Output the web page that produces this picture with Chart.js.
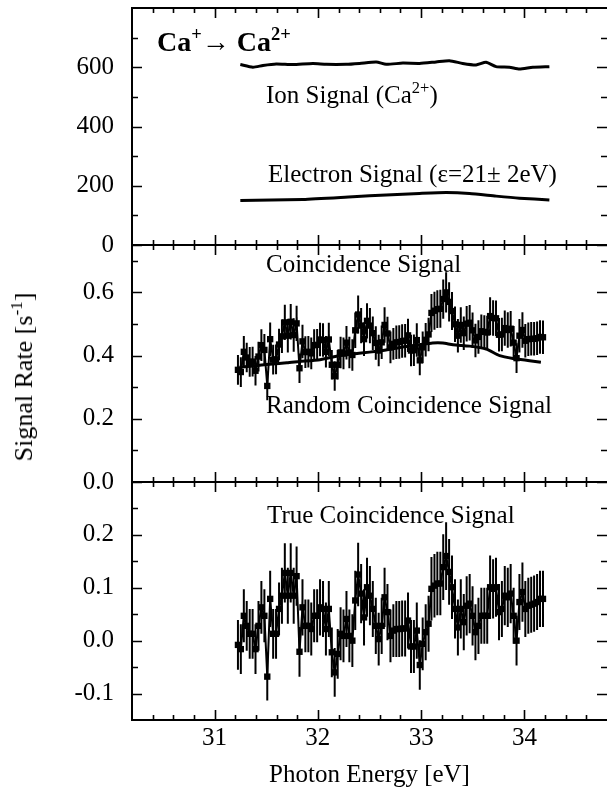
<!DOCTYPE html>
<html>
<head>
<meta charset="utf-8">
<script src="https://cdn.jsdelivr.net/npm/chart.js@4.4.0/dist/chart.umd.min.js"></script>
<style>
  html, body { margin: 0; padding: 0; background: #fff; }
  #wrap { position: relative; width: 607px; height: 792px; overflow: hidden;
          font-family: "Liberation Serif", "Times New Roman", serif; color: #000; }
  #wrap canvas { position: absolute; left: 0; top: 0; }
  .lbl { position: absolute; white-space: nowrap; font-size: 25px; line-height: 1; }
  .lbl sup { font-size: 0.66em; line-height: 0; vertical-align: 0.58em; }
  .big { font-size: 28px; font-weight: bold; }
  .ytitle { left: 24px; top: 377px; font-size: 26px; transform: translate(-50%, -50%) rotate(-90deg); }
</style>
</head>
<body>
<div id="wrap">
  <canvas id="c1" width="607" height="792"></canvas>
  <canvas id="c2" width="607" height="792"></canvas>
  <canvas id="c3" width="607" height="792"></canvas>
  <div class="lbl big" style="left:157px; top:28px;">Ca<sup>+</sup>&rarr; Ca<sup>2+</sup></div>
  <div class="lbl" style="left:266px; top:82px;">Ion Signal (Ca<sup>2+</sup>)</div>
  <div class="lbl" style="left:268px; top:161px;">Electron Signal (&epsilon;=21&plusmn; 2eV)</div>
  <div class="lbl" style="left:266px; top:251px;">Coincidence Signal</div>
  <div class="lbl" style="left:266px; top:392px;">Random Coincidence Signal</div>
  <div class="lbl" style="left:267px; top:502px;">True Coincidence Signal</div>
  <div class="lbl ytitle">Signal Rate [s<sup>-1</sup>]</div>
</div>
<script>
// photon energy of each scan point (eV)
const energy = [
  31.226, 31.254, 31.283, 31.311, 31.340, 31.368, 31.396, 31.425, 31.453, 31.482,
  31.510, 31.538, 31.567, 31.595, 31.624, 31.652, 31.680, 31.709, 31.737, 31.766,
  31.794, 31.822, 31.851, 31.879, 31.908, 31.936, 31.964, 31.993, 32.021, 32.050,
  32.078, 32.106, 32.135, 32.163, 32.192, 32.220, 32.248, 32.277, 32.305, 32.334,
  32.362, 32.390, 32.419, 32.447, 32.476, 32.504, 32.532, 32.561, 32.589, 32.618,
  32.646, 32.674, 32.703, 32.731, 32.760, 32.788, 32.816, 32.845, 32.873, 32.902,
  32.930, 32.958, 32.987, 33.015, 33.044, 33.072, 33.100, 33.129, 33.157, 33.186,
  33.214, 33.242, 33.271, 33.299, 33.328, 33.356, 33.384, 33.413, 33.441, 33.470,
  33.498, 33.526, 33.555, 33.583, 33.612, 33.640, 33.668, 33.697, 33.725, 33.754,
  33.782, 33.810, 33.839, 33.867, 33.896, 33.924, 33.952, 33.981, 34.009, 34.038,
  34.066, 34.094, 34.123, 34.151, 34.180
];

// coincidence signal (s^-1)
const coincRate = [
  0.355, 0.348, 0.412, 0.394, 0.380, 0.381, 0.352, 0.397, 0.433, 0.418,
  0.304, 0.452, 0.387, 0.388, 0.435, 0.461, 0.505, 0.463, 0.507, 0.465,
  0.502, 0.360, 0.445, 0.411, 0.412, 0.407, 0.433, 0.434, 0.451, 0.449,
  0.412, 0.451, 0.371, 0.335, 0.371, 0.410, 0.407, 0.441, 0.410, 0.402,
  0.480, 0.530, 0.495, 0.452, 0.510, 0.495, 0.471, 0.440, 0.416, 0.442,
  0.497, 0.470, 0.426, 0.437, 0.442, 0.443, 0.446, 0.447, 0.464, 0.416,
  0.417, 0.449, 0.385, 0.426, 0.450, 0.467, 0.535, 0.542, 0.547, 0.548,
  0.579, 0.600, 0.570, 0.541, 0.499, 0.463, 0.497, 0.471, 0.501, 0.504,
  0.480, 0.448, 0.459, 0.477, 0.475, 0.473, 0.525, 0.519, 0.518, 0.466,
  0.467, 0.487, 0.481, 0.485, 0.441, 0.392, 0.463, 0.481, 0.447, 0.452,
  0.453, 0.453, 0.455, 0.459, 0.458
];

// true coincidence signal (s^-1)
const trueRate = [
  -0.008, -0.016, 0.047, 0.028, 0.013, 0.013, -0.016, 0.028, 0.063, 0.047,
  -0.068, 0.079, 0.013, 0.013, 0.060, 0.085, 0.128, 0.085, 0.128, 0.085,
  0.122, -0.021, 0.063, 0.028, 0.028, 0.022, 0.047, 0.047, 0.063, 0.060,
  0.022, 0.060, -0.022, -0.060, -0.025, 0.013, 0.009, 0.041, 0.009, 0.000,
  0.076, 0.125, 0.089, 0.044, 0.101, 0.085, 0.060, 0.028, 0.003, 0.028,
  0.082, 0.054, 0.009, 0.019, 0.022, 0.022, 0.023, 0.023, 0.038, -0.011,
  -0.011, 0.019, -0.046, -0.006, 0.016, 0.032, 0.098, 0.104, 0.108, 0.108,
  0.139, 0.160, 0.130, 0.101, 0.060, 0.025, 0.060, 0.035, 0.066, 0.070,
  0.047, 0.016, 0.028, 0.047, 0.047, 0.047, 0.101, 0.098, 0.101, 0.054,
  0.060, 0.085, 0.082, 0.089, 0.047, 0.000, 0.073, 0.092, 0.060, 0.066,
  0.068, 0.070, 0.073, 0.079, 0.079
];

// statistical error of each point (s^-1)
const rateErr = [
  0.047, 0.047, 0.050, 0.047, 0.047, 0.047, 0.047, 0.047, 0.050, 0.050,
  0.045, 0.053, 0.047, 0.047, 0.050, 0.053, 0.056, 0.053, 0.056, 0.053,
  0.056, 0.047, 0.053, 0.050, 0.050, 0.050, 0.050, 0.050, 0.053, 0.053,
  0.050, 0.053, 0.047, 0.046, 0.047, 0.050, 0.050, 0.053, 0.050, 0.050,
  0.056, 0.060, 0.056, 0.053, 0.056, 0.056, 0.053, 0.053, 0.050, 0.053,
  0.056, 0.053, 0.050, 0.050, 0.053, 0.053, 0.053, 0.053, 0.053, 0.050,
  0.050, 0.053, 0.047, 0.050, 0.053, 0.053, 0.060, 0.060, 0.060, 0.060,
  0.062, 0.064, 0.062, 0.060, 0.056, 0.053, 0.056, 0.053, 0.056, 0.056,
  0.056, 0.053, 0.053, 0.053, 0.053, 0.053, 0.060, 0.056, 0.056, 0.053,
  0.053, 0.056, 0.056, 0.056, 0.053, 0.047, 0.053, 0.056, 0.053, 0.053,
  0.053, 0.053, 0.053, 0.053, 0.053
];

// random coincidence curve
const randomE    = [31.24, 31.40, 31.53, 31.70, 31.82, 32.02, 32.18, 32.34, 32.50, 32.66, 32.82,
                    32.98, 33.11, 33.21, 33.31, 33.47, 33.63, 33.76, 33.89, 34.05, 34.16];
const randomRate = [0.363, 0.368, 0.373, 0.377, 0.381, 0.387, 0.398, 0.405, 0.411, 0.418, 0.427,
                    0.434, 0.440, 0.440, 0.434, 0.430, 0.421, 0.400, 0.391, 0.384, 0.379];

// ion signal (Ca2+)
const ionE    = [31.249, 31.371, 31.468, 31.597, 31.758, 31.952, 32.081, 32.274, 32.403, 32.565, 32.661, 32.823,
                 32.984, 33.145, 33.274, 33.403, 33.532, 33.629, 33.726, 33.855, 33.952, 34.081, 34.242];
const ionRate = [609, 600, 606, 611, 609, 613, 610, 610, 613, 618, 610, 614,
                 613, 618, 622, 613, 608, 617, 602, 600, 594, 600, 602];

// electron signal
const elecE    = [31.249, 31.855, 32.339, 32.661, 32.984, 33.242, 33.468, 33.726, 33.952, 34.242];
const elecRate = [150, 154, 163, 169, 174, 177, 174, 165, 158, 152];

// axis ticks
const xLabels = [31, 32, 33, 34];
const xMinor = [30.4, 30.6, 30.8, 31.2, 31.4, 31.6, 31.8, 32.2, 32.4, 32.6, 32.8,
                33.2, 33.4, 33.6, 33.8, 34.2, 34.4, 34.6];
const ionTicks = [0, 200, 400, 600];
const ionMinor = [100, 300, 500, 700];
const coincTicks = [0, 0.2, 0.4, 0.6];
const coincMinor = [0.1, 0.3, 0.5, 0.7];
const trueTicks = [-0.1, 0, 0.1, 0.2];
const trueMinor = [-0.05, 0.05, 0.15, 0.25];

const FONT = 'Liberation Serif';
const pts = (xs, ys) => xs.map((x, i) => ({ x: x, y: ys[i] }));

// frame (left, top, bottom) with inward ticks; right edge falls just outside the page
const frameTicks = {
  id: 'frameTicks',
  afterDraw(chart, args, opts) {
    const { ctx, chartArea: a } = chart;
    const xs = chart.scales.x, ys = chart.scales.y;
    ctx.save();
    ctx.strokeStyle = '#000';
    ctx.lineWidth = 2;
    ctx.beginPath();
    ctx.moveTo(a.right + 2, a.top); ctx.lineTo(a.left, a.top);
    ctx.lineTo(a.left, a.bottom); ctx.lineTo(a.right + 2, a.bottom);
    ctx.stroke();
    ctx.lineWidth = 1.6;
    ctx.beginPath();
    const xt = (v, len) => {
      const px = Math.round(xs.getPixelForValue(v)) + 0.5;
      ctx.moveTo(px, a.top); ctx.lineTo(px, a.top + len);
      ctx.moveTo(px, a.bottom); ctx.lineTo(px, a.bottom - len);
    };
    const yt = (v, len) => {
      const py = Math.round(ys.getPixelForValue(v)) + 0.5;
      ctx.moveTo(a.left, py); ctx.lineTo(a.left + len, py);
      ctx.moveTo(a.right, py); ctx.lineTo(a.right - len, py);
    };
    xLabels.forEach(v => xt(v, 10));
    xMinor.forEach(v => xt(v, 5));
    opts.major.forEach(v => yt(v, 10));
    opts.minor.forEach(v => yt(v, 6));
    ctx.stroke();
    ctx.restore();
  }
};

// vertical error bars
const errorBars = {
  id: 'errorBars',
  beforeDatasetsDraw(chart) {
    const { ctx } = chart;
    const ys = chart.scales.y;
    chart.data.datasets.forEach((ds, di) => {
      if (!ds.errors) return;
      const meta = chart.getDatasetMeta(di);
      ctx.save();
      ctx.strokeStyle = '#000';
      ctx.lineWidth = 2;
      ctx.beginPath();
      meta.data.forEach((p, i) => {
        const v = ds.data[i].y, e = ds.errors[i];
        ctx.moveTo(p.x, ys.getPixelForValue(v - e));
        ctx.lineTo(p.x, ys.getPixelForValue(v + e));
      });
      ctx.stroke();
      ctx.restore();
    });
  }
};

function yScale(min, max, labels, fmt) {
  return {
    min: min, max: max,
    afterBuildTicks: s => { s.ticks = labels.map(v => ({ value: v })); },
    afterFit: s => { s.width = 132; s.paddingTop = 0; s.paddingBottom = 0; },
    grid: { display: false, drawTicks: false },
    border: { display: false },
    ticks: { font: { family: FONT, size: 25 }, color: '#000', padding: 18, callback: fmt }
  };
}

function xScale(show) {
  const s = {
    type: 'linear', min: 30.2, max: 34.8, display: show,
    afterBuildTicks: sc => { sc.ticks = xLabels.map(v => ({ value: v })); },
    grid: { display: false, drawTicks: false },
    border: { display: false },
    ticks: { font: { family: FONT, size: 25 }, color: '#000', padding: 3, maxRotation: 0 },
    title: { display: true, text: 'Photon Energy [eV]', color: '#000',
             font: { family: FONT, size: 25 }, padding: { top: 0, bottom: 2 } }
  };
  if (show) s.afterFit = sc => { sc.height = 72; sc.paddingLeft = 0; sc.paddingRight = 0; };
  return s;
}

function makeChart(id, datasets, y, padTop, padBottom, showX, major, minor) {
  return new Chart(document.getElementById(id), {
    type: 'line',
    data: { datasets: datasets },
    options: {
      responsive: false,
      animation: false,
      layout: { autoPadding: false, padding: { top: padTop, bottom: padBottom, left: 0, right: 0 } },
      scales: { x: xScale(showX), y: y },
      plugins: {
        legend: { display: false },
        tooltip: { enabled: false },
        frameTicks: { major: major, minor: minor }
      }
    },
    plugins: [errorBars, frameTicks]
  });
}

const lineStyle = { borderColor: '#000', borderWidth: 3, pointRadius: 0, tension: 0.2, fill: false };
const markStyle = { borderColor: '#000', borderWidth: 2, backgroundColor: '#000',
                    pointStyle: 'rect', pointRadius: 4.5, pointBorderWidth: 0, tension: 0, fill: false };

makeChart('c1', [
  Object.assign({ data: pts(ionE, ionRate) }, lineStyle),
  Object.assign({ data: pts(elecE, elecRate) }, lineStyle)
], yScale(0, 800, ionTicks, v => String(v)), 8, 547, false, ionTicks, ionMinor);

makeChart('c2', [
  Object.assign({ data: pts(energy, coincRate), errors: rateErr }, markStyle),
  Object.assign({ data: pts(randomE, randomRate) }, lineStyle)
], yScale(0, 0.75, coincTicks, v => v.toFixed(1)), 245, 310, false, coincTicks, coincMinor);

makeChart('c3', [
  Object.assign({ data: pts(energy, trueRate), errors: rateErr }, markStyle)
], yScale(-0.15, 0.3, trueTicks, v => v.toFixed(1)), 482, 0, true, trueTicks, trueMinor);
</script>
</body>
</html>
